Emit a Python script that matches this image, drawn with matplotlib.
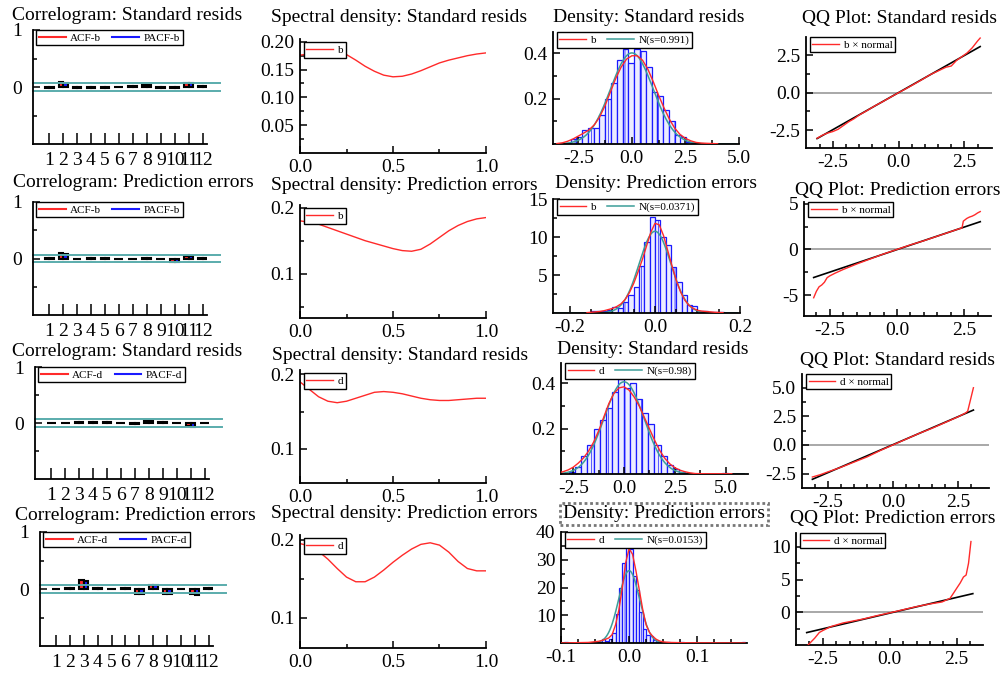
import numpy as np
import matplotlib
matplotlib.use("Agg")
import matplotlib.pyplot as plt
from matplotlib.lines import Line2D
from matplotlib.ticker import FixedLocator, FixedFormatter

plt.rcParams["font.family"] = ["Liberation Serif", "DejaVu Serif"]
plt.rcParams["axes.unicode_minus"] = False
plt.rcParams["hatch.linewidth"] = 0.5

W, H = 1004, 673
RED = "#ff2a2a"
BLUE = "#1a1aff"
TEAL = "#5aacac"
NORM = "#3c9e98"

# ---- correlograms: lags 1..12, ACF and PACF -------------------------------
lags = np.arange(1, 13)
acf_b_std = [-0.01, 0.08, -0.02, -0.015, -0.015, -0.005, 0.01, 0.04, -0.02, -0.02, 0.07, 0.01]
pacf_b_std = [-0.01, 0.075, -0.02, -0.015, -0.015, -0.005, 0.01, 0.035, -0.02, -0.02, 0.07, 0.01]
acf_b_err = [0.01, 0.09, -0.015, 0.01, 0.01, -0.005, -0.005, 0.01, -0.01, -0.06, 0.05, 0.01]
pacf_b_err = [0.01, 0.085, -0.015, 0.01, 0.01, -0.005, -0.005, 0.01, -0.01, -0.06, 0.05, 0.01]
acf_d_std = [0.005, 0.005, 0.01, 0.025, 0.02, 0.005, -0.025, 0.04, 0.01, 0.005, -0.06, 0.005]
pacf_d_std = [0.005, 0.005, 0.01, 0.025, 0.02, 0.005, -0.025, 0.035, 0.01, 0.005, -0.065, 0.005]
acf_d_err = [-0.005, 0.01, 0.15, 0.01, -0.005, 0.01, -0.09, 0.07, -0.08, 0.005, -0.08, 0.01]
pacf_d_err = [-0.005, 0.01, 0.14, 0.01, -0.005, 0.01, -0.085, 0.065, -0.08, 0.005, -0.1, 0.01]
acf_band = [0.065, 0.065, 0.065, 0.072]

# ---- spectral densities on frequency 0..1 ----------------------------------
freq = np.round(np.arange(0, 1.0001, 0.05), 2)
spec_b_std = [0.176, 0.178, 0.180, 0.181, 0.181, 0.177, 0.167, 0.156, 0.147, 0.140, 0.137,
              0.138, 0.142, 0.148, 0.155, 0.162, 0.167, 0.171, 0.175, 0.178, 0.180]
spec_b_err = [0.180, 0.178, 0.175, 0.170, 0.165, 0.160, 0.155, 0.150, 0.146, 0.142, 0.138,
              0.135, 0.134, 0.137, 0.145, 0.155, 0.165, 0.173, 0.179, 0.183, 0.185]
spec_d_std = [0.190, 0.180, 0.170, 0.164, 0.162, 0.164, 0.168, 0.172, 0.176, 0.177, 0.176,
              0.174, 0.171, 0.168, 0.166, 0.165, 0.165, 0.166, 0.167, 0.168, 0.168]
spec_d_err = [0.195, 0.192, 0.185, 0.175, 0.163, 0.152, 0.146, 0.146, 0.152, 0.161, 0.171,
              0.180, 0.188, 0.194, 0.196, 0.193, 0.184, 0.172, 0.163, 0.160, 0.160]

# ---- histograms (left edge, height), bin width, kernel density, normal s ----
hist_b_std_left = [-3.13, -2.86, -2.59, -2.32, -2.05, -1.78, -1.51, -1.24, -0.97, -0.70, -0.43, -0.16,
                   0.11, 0.38, 0.65, 0.92, 1.19, 1.46, 1.73, 2.00, 2.27, 2.54, 2.81]
hist_b_std_h = [0.005, 0.02, 0.03, 0.06, 0.07, 0.07, 0.13, 0.20, 0.27, 0.37, 0.42, 0.36,
                0.42, 0.41, 0.34, 0.23, 0.21, 0.15, 0.10, 0.04, 0.03, 0.01, 0.005]
hist_b_std_w = 0.27
kde_b_std_x = [-3.5, -3.25, -3.0, -2.75, -2.5, -2.25, -2.0, -1.75, -1.5, -1.25, -1.0, -0.75, -0.5, -0.25,
               0.0, 0.25, 0.5, 0.75, 1.0, 1.25, 1.5, 1.75, 2.0, 2.25, 2.5, 2.75, 3.0, 3.25, 3.5, 3.75, 4.0]
kde_b_std_y = [0.002, 0.005, 0.012, 0.022, 0.035, 0.048, 0.062, 0.085, 0.12, 0.17, 0.23, 0.29, 0.34, 0.375,
               0.39, 0.39, 0.37, 0.33, 0.275, 0.215, 0.16, 0.11, 0.07, 0.042, 0.025, 0.014, 0.007, 0.004,
               0.003, 0.002, 0.001]
s_b_std = 0.991

hist_b_err_left = [-0.15, -0.1375, -0.125, -0.1125, -0.1, -0.0875, -0.075, -0.0625, -0.05, -0.0375,
                   -0.025, -0.0125, 0.0, 0.0125, 0.025, 0.0375, 0.05, 0.0625, 0.075, 0.0875, 0.1,
                   0.1125, 0.125, 0.1375, 0.15]
hist_b_err_h = [0.2, 0.2, 0.3, 0.4, 0.8, 0.7, 1.5, 2.4, 3.4, 6.2, 9.4, 12.6, 12.3, 10.0, 8.9, 6.0,
                4.1, 2.4, 1.0, 0.9, 0.2, 0.2, 0.1, 0.1, 0.1]
hist_b_err_w = 0.0125
kde_b_err_x = [-0.16, -0.15, -0.14, -0.13, -0.12, -0.11, -0.10, -0.09, -0.08, -0.07, -0.06, -0.05, -0.04,
               -0.03, -0.02, -0.01, 0.0, 0.01, 0.02, 0.03, 0.04, 0.05, 0.06, 0.07, 0.08, 0.09, 0.10,
               0.11, 0.12, 0.13, 0.14, 0.15, 0.16]
kde_b_err_y = [0.05, 0.1, 0.15, 0.2, 0.3, 0.45, 0.6, 0.85, 1.2, 1.8, 2.7, 3.9, 5.4, 7.0, 8.8, 10.6,
               11.8, 11.6, 10.2, 8.2, 6.2, 4.3, 2.8, 1.7, 1.0, 0.6, 0.35, 0.25, 0.2, 0.15, 0.1, 0.07, 0.05]
s_b_err = 0.0371

hist_d_std_left = [-2.7, -2.4, -2.1, -1.8, -1.5, -1.2, -0.9, -0.6, -0.3, 0.0, 0.3, 0.6, 0.9, 1.2,
                   1.5, 1.8, 2.1, 2.4, 2.7, 4.8]
hist_d_std_h = [0.01, 0.03, 0.08, 0.13, 0.20, 0.24, 0.29, 0.36, 0.42, 0.38, 0.40, 0.33, 0.27, 0.22,
                0.13, 0.08, 0.04, 0.02, 0.01, 0.005]
hist_d_std_w = 0.3
kde_d_std_x = [-3.5, -3.25, -3.0, -2.75, -2.5, -2.25, -2.0, -1.75, -1.5, -1.25, -1.0, -0.75, -0.5, -0.25,
               0.0, 0.25, 0.5, 0.75, 1.0, 1.25, 1.5, 1.75, 2.0, 2.25, 2.5, 2.75, 3.0, 3.25, 3.5, 4.0, 5.3]
kde_d_std_y = [0.002, 0.005, 0.01, 0.018, 0.03, 0.048, 0.07, 0.10, 0.14, 0.19, 0.25, 0.31, 0.355, 0.38,
               0.385, 0.37, 0.34, 0.30, 0.25, 0.20, 0.15, 0.105, 0.07, 0.045, 0.028, 0.017, 0.01,
               0.005, 0.002, 0.001, 0.001]
s_d_std = 0.98

hist_d_err_left = [-0.095, -0.045, -0.04, -0.035, -0.03, -0.025, -0.02, -0.015, -0.01, -0.005, 0.0,
                   0.005, 0.01, 0.015, 0.02, 0.025, 0.03, 0.035, 0.04, 0.055, 0.075, 0.165]
hist_d_err_h = [0.3, 0.3, 1.5, 0.8, 1.5, 3.5, 10.5, 20.0, 29.0, 36.0, 34.0, 24.0, 19.0, 11.0, 5.0,
                3.0, 2.5, 1.2, 0.5, 0.3, 0.3, 0.3]
hist_d_err_w = 0.005
kde_d_err_x = [-0.1, -0.06, -0.045, -0.04, -0.035, -0.03, -0.025, -0.02, -0.015, -0.01, -0.005, 0.0,
               0.005, 0.01, 0.015, 0.02, 0.025, 0.03, 0.035, 0.04, 0.045, 0.05, 0.06, 0.08, 0.1, 0.17]
kde_d_err_y = [0.0, 0.2, 0.6, 0.9, 1.3, 1.8, 3.0, 6.5, 12.0, 20.0, 29.0, 34.0, 32.0, 26.0, 19.0, 12.0,
               6.5, 3.8, 2.3, 1.3, 0.7, 0.4, 0.2, 0.1, 0.05, 0.0]
s_d_err = 0.0153

# ---- QQ plots: theoretical vs sample quantiles, plus reference line ---------
qq_b_std_t = [-3.1, -2.9, -2.7, -2.5, -2.3, -2.1, -1.9, -1.7, -1.5, -1.2, -0.9, -0.6, -0.3, 0.0,
              0.3, 0.6, 0.9, 1.2, 1.5, 1.8, 2.0, 2.2, 2.4, 2.6, 2.8, 3.0, 3.1]
qq_b_std_s = [-3.05, -2.85, -2.7, -2.6, -2.45, -2.2, -1.95, -1.75, -1.5, -1.2, -0.88, -0.6, -0.3, 0.0,
              0.28, 0.58, 0.88, 1.2, 1.45, 1.7, 1.78, 2.15, 2.4, 2.65, 3.0, 3.45, 3.65]
qq_b_std_line = ([-3.1, 3.1], [-3.07, 3.08])

qq_b_err_t = [-3.1, -3.0, -2.9, -2.8, -2.7, -2.6, -2.5, -2.3, -2.0, -1.5, -1.0, -0.5, 0.0, 0.5, 1.0,
              1.5, 2.0, 2.3, 2.42, 2.47, 2.6, 2.7, 2.8, 2.9, 3.0, 3.1]
qq_b_err_s = [-5.3, -4.6, -4.1, -3.9, -3.6, -3.1, -2.9, -2.6, -2.2, -1.6, -1.05, -0.5, 0.0, 0.5, 0.95,
              1.45, 1.95, 2.25, 2.35, 3.1, 3.4, 3.55, 3.65, 3.8, 4.0, 4.15]
qq_b_err_line = ([-3.1, 3.1], [-3.08, 3.04])

qq_d_std_t = [-3.1, -2.8, -2.5, -2.0, -1.5, -1.0, -0.5, 0.0, 0.5, 1.0, 1.5, 2.0, 2.5, 2.8, 2.88, 3.1]
qq_d_std_s = [-2.8, -2.6, -2.35, -1.95, -1.5, -1.05, -0.5, 0.0, 0.5, 1.0, 1.45, 1.95, 2.45, 2.8, 2.95, 5.0]
qq_d_std_line = ([-3.1, 3.1], [-3.0, 3.05])

qq_d_err_t = [-3.05, -2.8, -2.63, -2.5, -2.2, -1.75, -1.0, -0.5, 0.0, 0.5, 1.0, 1.5, 1.95, 2.25, 2.38,
              2.5, 2.63, 2.75, 2.85, 2.94, 3.03]
qq_d_err_s = [-4.95, -3.9, -3.05, -2.75, -2.15, -1.6, -1.0, -0.5, -0.05, 0.42, 0.9, 1.3, 1.6, 2.15, 2.95,
              3.7, 4.5, 5.4, 5.7, 7.5, 10.8]
qq_d_err_line = ([-3.1, 3.1], [-3.06, 2.87])


fig = plt.figure(figsize=(W / 100, H / 100), dpi=100)


def add_ax(l, t, r, b):
    ax = fig.add_axes([l / W, 1 - b / H, (r - l) / W, (b - t) / H])
    ax.spines["top"].set_visible(False)
    ax.spines["right"].set_visible(False)
    for s in ("left", "bottom"):
        ax.spines[s].set_linewidth(1.3)
    ax.tick_params(which="both", direction="in", labelsize=14, width=1.1, pad=4)
    ax.tick_params(which="major", length=5)
    ax.tick_params(which="minor", length=3)
    return ax


def title(x, y, s, **kw):
    fig.text(x / W, 1 - y / H, s, fontsize=14, ha="left", va="center", **kw)


def boxed_legend(ax, handles, labels, ncol=1, anchor=(0.02, 1.0)):
    leg = ax.legend(handles, labels, loc="upper left", bbox_to_anchor=anchor, ncol=ncol,
                    fontsize=8, frameon=True, fancybox=False, edgecolor="black", framealpha=1,
                    handlelength=2.4, handletextpad=0.4, columnspacing=1.0,
                    borderpad=0.25, borderaxespad=0.0)
    leg.get_frame().set_linewidth(1.0)
    return leg


def set_ticks(ax, axis, major, labels, minor):
    a = ax.xaxis if axis == "x" else ax.yaxis
    a.set_major_locator(FixedLocator(major))
    a.set_major_formatter(FixedFormatter(labels))
    a.set_minor_locator(FixedLocator(minor))


def correlogram(box, acf, pacf, band, tag):
    ax = add_ax(*box)
    ax.bar(lags - 0.32, acf, width=0.32, align="edge", color=RED, edgecolor="black", lw=1.5)
    ax.bar(lags, pacf, width=0.32, align="edge", color=BLUE, edgecolor="black", lw=1.5)
    for yv in (band, -band):
        ax.plot([-0.15, 13.2], [yv, yv], color=TEAL, lw=1.4, clip_on=False, zorder=1)
    ax.set_xlim(-0.15, 12.3)
    ax.set_ylim(-1, 1)
    ax.set_xticks(lags)
    ax.set_xticklabels([str(v) for v in lags])
    ax.tick_params(axis="x", which="major", length=8, pad=6)
    set_ticks(ax, "y", [0, 1], ["0", "1"], [-0.5, 0.5])
    ax.tick_params(axis="y", pad=8)
    h = [Line2D([], [], color=RED, lw=1.5), Line2D([], [], color=BLUE, lw=1.5)]
    boxed_legend(ax, h, ["ACF-" + tag, "PACF-" + tag], ncol=2)
    return ax


def spectral(box, spec, tag, ylim, ymaj, ylab, ymin):
    ax = add_ax(*box)
    (ln,) = ax.plot(freq, spec, color=RED, lw=1.0)
    ax.set_xlim(0, 1.0)
    ax.set_ylim(*ylim)
    set_ticks(ax, "x", [0, 0.5, 1.0], ["0.0", "0.5", "1.0"], [0.25, 0.75])
    set_ticks(ax, "y", ymaj, ylab, ymin)
    boxed_legend(ax, [ln], [tag], anchor=(0.02, 0.97))
    return ax


def density(box, left, h, w, kx, ky, s, tag, xlim, ylim, xmaj, xlab, xmin, ymaj, ylab, ymin):
    ax = add_ax(*box)
    ax.bar(left, h, width=w, align="edge", facecolor="#ececff", edgecolor=BLUE, lw=0.9,
           hatch="|", zorder=1)
    xs = np.linspace(xlim[0], xlim[1] * 0.97, 300)
    (nl,) = ax.plot(xs, np.exp(-0.5 * (xs / s) ** 2) / (s * np.sqrt(2 * np.pi)), color=NORM,
                    lw=1.1, zorder=2)
    (kl,) = ax.plot(kx, ky, color=RED, lw=1.0, zorder=3)
    ax.set_xlim(*xlim)
    ax.set_ylim(*ylim)
    set_ticks(ax, "x", xmaj, xlab, xmin)
    set_ticks(ax, "y", ymaj, ylab, ymin)
    boxed_legend(ax, [kl, nl], [tag, "N(s=%s)" % s], ncol=2)
    return ax


def qqplot(box, qt, qs, line, tag, xlim, ylim, ymaj, ylab, ymin):
    ax = add_ax(*box)
    ax.axhline(0, color="#9a9a9a", lw=1.2, zorder=0)
    ax.plot(line[0], line[1], color="black", lw=1.2, zorder=2)
    (ql,) = ax.plot(qt, qs, color=RED, lw=1.0, zorder=3)
    ax.set_xlim(*xlim)
    ax.set_ylim(*ylim)
    set_ticks(ax, "x", [-2.5, 0, 2.5], ["-2.5", "0.0", "2.5"],
              [-3.0, -2.0, -1.5, -1.0, -0.5, 0.5, 1.0, 1.5, 2.0, 3.0])
    set_ticks(ax, "y", ymaj, ylab, ymin)
    boxed_legend(ax, [ql], [tag + " \u00d7 normal"])
    return ax


# column 1: correlograms
correlogram((33, 30, 207, 144), np.array(acf_b_std), np.array(pacf_b_std), acf_band[0], "b")
correlogram((33, 202, 207, 315), np.array(acf_b_err), np.array(pacf_b_err), acf_band[1], "b")
correlogram((35, 367, 209, 479), np.array(acf_d_std), np.array(pacf_d_std), acf_band[2], "d")
correlogram((40, 532, 213, 646), np.array(acf_d_err), np.array(pacf_d_err), acf_band[3], "d")

# column 2: spectral densities
spectral((300, 39, 486, 153), spec_b_std, "b", (0, 0.205),
         [0.05, 0.10, 0.15, 0.20], ["0.05", "0.10", "0.15", "0.20"],
         [0.025, 0.075, 0.125, 0.175])
spectral((300, 205, 486, 318), spec_b_err, "b", (0.033, 0.204),
         [0.1, 0.2], ["0.1", "0.2"], [0.05, 0.15])
spectral((300, 370, 486, 483), spec_d_std, "d", (0.054, 0.206),
         [0.1, 0.2], ["0.1", "0.2"], [0.15])
spectral((300, 535, 486, 648), spec_d_err, "d", (0.061, 0.206),
         [0.1, 0.2], ["0.1", "0.2"], [0.15])

# column 3: densities
density((553, 32, 739, 144), hist_b_std_left, hist_b_std_h, hist_b_std_w, kde_b_std_x, kde_b_std_y,
        s_b_std, "b", (-3.68, 5.0), (0, 0.495), [-2.5, 0, 2.5, 5.0], ["-2.5", "0.0", "2.5", "5.0"],
        [-1.25, 1.25, 3.75], [0.2, 0.4], ["0.2", "0.4"], [0.1, 0.3])
density((553, 199, 740, 313), hist_b_err_left, hist_b_err_h, hist_b_err_w, kde_b_err_x, kde_b_err_y,
        s_b_err, "b", (-0.24, 0.2), (0, 15), [-0.2, 0, 0.2], ["-0.2", "0.0", "0.2"],
        [-0.15, -0.1, -0.05, 0.05, 0.1, 0.15], [5, 10, 15], ["5", "10", "15"], [2.5, 7.5, 12.5])
density((561, 363, 748, 474), hist_d_std_left, hist_d_std_h, hist_d_std_w, kde_d_std_x, kde_d_std_y,
        s_d_std, "d", (-3.1, 6.1), (0, 0.49), [-2.5, 0, 2.5, 5.0], ["-2.5", "0.0", "2.5", "5.0"],
        [-1.25, 1.25, 3.75], [0.2, 0.4], ["0.2", "0.4"], [0.1, 0.3])
density((561, 532, 747, 643), hist_d_err_left, hist_d_err_h, hist_d_err_w, kde_d_err_x, kde_d_err_y,
        s_d_err, "d", (-0.1, 0.173), (0, 40), [-0.1, 0, 0.1], ["-0.1", "0.0", "0.1"],
        [-0.075, -0.05, -0.025, 0.025, 0.05, 0.075, 0.125, 0.15], [10, 20, 30, 40],
        ["10", "20", "30", "40"], [5, 15, 25, 35])

# column 4: QQ plots
qqplot((806, 37, 992, 148), qq_b_std_t, qq_b_std_s, qq_b_std_line, "b", (-3.52, 3.55), (-3.7, 3.72),
       [-2.5, 0, 2.5], ["-2.5", "0.0", "2.5"], [-1.25, 1.25])
qqplot((804, 202, 991, 316), qq_b_err_t, qq_b_err_s, qq_b_err_line, "b", (-3.46, 3.5), (-7.3, 5.2),
       [-5, 0, 5], ["-5", "0", "5"], [-2.5, 2.5])
qqplot((802, 374, 989, 488), qq_d_std_t, qq_d_std_s, qq_d_std_line, "d", (-3.5, 3.7), (-3.76, 6.2),
       [-2.5, 0, 2.5, 5.0], ["-2.5", "0.0", "2.5", "5.0"], [-1.25, 1.25, 3.75])
qqplot((796, 533, 983, 645), qq_d_err_t, qq_d_err_s, qq_d_err_line, "d", (-3.5, 3.48), (-4.95, 12.1),
       [0, 5, 10], ["0", "5", "10"], [-2.5, 2.5, 7.5])

# panel titles
title(12, 15, "Correlogram: Standard resids")
title(271, 17, "Spectral density: Standard resids")
title(553, 18, "Density: Standard resids")
title(802, 18, "QQ Plot: Standard resids")
title(13, 183, "Correlogram: Prediction errors")
title(271, 186, "Spectral density: Prediction errors")
title(555, 184, "Density: Prediction errors")
title(795, 190, "QQ Plot: Prediction errors")
title(12, 352, "Correlogram: Standard resids")
title(272, 356, "Spectral density: Standard resids")
title(557, 350, "Density: Standard resids")
title(800, 360, "QQ Plot: Standard resids")
title(15, 515, "Correlogram: Prediction errors")
title(271, 513, "Spectral density: Prediction errors")
title(563, 514, "Density: Prediction errors",
      bbox=dict(boxstyle="square,pad=0.15", facecolor="none", edgecolor="#777777",
                linestyle=(0, (1, 1)), linewidth=2.0))
title(790, 519, "QQ Plot: Prediction errors")

fig.savefig("out.png", dpi=100)
